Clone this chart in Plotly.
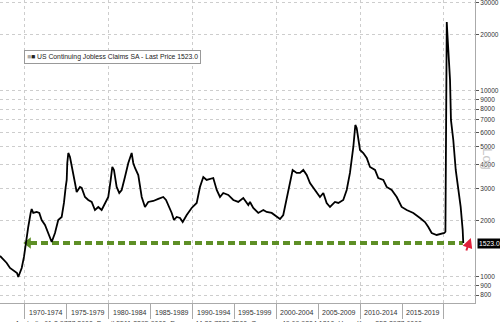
import plotly.graph_objects as go
import math

# ---- data (thousands) ----
years = [1967.02, 1967.41, 1967.82, 1968.21, 1968.57, 1969.05, 1969.20, 1969.40, 1969.61, 1969.88,
         1970.12, 1970.39, 1970.68, 1970.80, 1970.99, 1971.40, 1971.71, 1971.99, 1972.39, 1972.78,
         1973.19, 1973.58, 1973.97, 1974.38, 1974.65, 1974.86, 1974.98, 1975.05, 1975.17, 1975.37,
         1975.57, 1975.97, 1976.17, 1976.56, 1976.77, 1977.16, 1977.55, 1977.96, 1978.35, 1978.75,
         1979.15, 1979.55, 1979.94, 1980.23, 1980.42, 1980.62, 1980.94, 1981.25, 1981.54, 1981.93,
         1982.33, 1982.73, 1982.92, 1983.13, 1983.52, 1983.93, 1984.32, 1984.71, 1985.31, 1985.91,
         1986.50, 1986.83, 1987.10, 1987.51, 1987.78, 1988.10, 1988.50, 1988.82, 1989.30, 1989.89,
         1990.49, 1990.88, 1991.28, 1991.68, 1992.47, 1992.88, 1993.27, 1993.66, 1994.26, 1994.86,
         1995.45, 1996.05, 1996.65, 1996.85, 1997.24, 1997.84, 1998.44, 1998.84, 1999.44, 2000.04,
         2000.43, 2000.82, 2001.23, 2001.62, 2001.94, 2002.42, 2002.82, 2003.21, 2003.62, 2004.01,
         2004.61, 2005.20, 2005.60, 2006.00, 2006.40, 2006.99, 2007.39, 2007.98, 2008.39, 2008.78,
         2009.18, 2009.42, 2009.58, 2009.98, 2010.37, 2010.78, 2011.17, 2011.77, 2012.16, 2012.76,
         2013.16, 2013.76, 2014.36, 2014.95, 2015.55, 2016.34, 2017.14, 2017.73, 2018.13, 2018.53,
         2019.13, 2019.72, 2020.04, 2020.17, 2020.21, 2020.25, 2020.29, 2020.33, 2020.40, 2020.51,
         2020.72, 2020.83, 2021.11, 2021.40, 2021.71, 2021.99, 2022.23, 2022.30]
claims = [1297, 1250, 1189, 1118, 1090, 1051, 1000, 1051, 1118, 1281,
          1580, 1857, 2209, 2321, 2209, 2236, 2209, 2025, 1904, 1724,
          1542, 1724, 2025, 2102, 2500, 3047, 3323, 4102, 4642, 4418,
          3903, 3202, 2864, 3047, 3010, 2692, 2594, 2531, 2292, 2379,
          2292, 2500, 2692, 3323, 3903, 3761, 3047, 2829, 2936, 3447,
          4102, 4642, 4102, 3855, 3534, 2692, 2379, 2531, 2562, 2627,
          2692, 2594, 2438, 2209, 2025, 2102, 2076, 1975, 2154, 2350,
          2500, 3047, 3447, 3323, 3405, 2936, 2692, 2829, 2760, 2594,
          2531, 2659, 2438, 2531, 2350, 2209, 2292, 2236, 2209, 2102,
          2050, 2154, 2627, 3202, 3761, 3624, 3624, 3761, 3534, 3202,
          2936, 2692, 2829, 2500, 2379, 2531, 2500, 2594, 2936, 3624,
          5000, 6566, 6327, 4818, 4642, 4364, 3903, 3761, 3405, 3323,
          3047, 2936, 2692, 2379, 2292, 2209, 2076, 1975, 1857, 1724,
          1682, 1703, 1724, 1750, 3000, 8000, 16000, 23500, 20500, 17245,
          11458, 6985, 5452, 3761, 3047, 2379, 1789, 1523]
last_price = 1523.0

period_labels = ["1970-1974", "1975-1979", "1980-1984", "1985-1989", "1990-1994",
                 "1995-1999", "2000-2004", "2005-2009", "2010-2014", "2015-2019"]
period_starts = [1970, 1975, 1980, 1985, 1990, 1995, 2000, 2005, 2010, 2015]
y_ticks = [800, 900, 1000, 2000, 3000, 4000, 5000, 6000, 7000, 8000, 9000, 10000, 20000, 30000]

arrow_start, arrow_end = 1970.6, 2022.25

FONT = "Liberation Sans, Arial, sans-serif"
GRID = "#cdcdcd"

fig = go.Figure()
fig.add_trace(go.Scatter(x=[arrow_start, arrow_end], y=[last_price, last_price], mode="lines",
                         line=dict(color="#5e8f26", width=4, dash="7px,4px"),
                         hoverinfo="skip", showlegend=False))
fig.add_trace(go.Scatter(x=[arrow_start - 0.2], y=[last_price], mode="markers",
                         marker=dict(symbol="triangle-left", size=10, color="#5e8f26"),
                         hoverinfo="skip", showlegend=False))
fig.add_trace(go.Scatter(x=years, y=claims, mode="lines",
                         line=dict(color="#000000", width=1.8),
                         name="US Continuing Jobless Claims SA", showlegend=False))

fig.update_layout(
    width=500, height=322,
    margin=dict(l=0, r=25, t=0, b=19),
    paper_bgcolor="white", plot_bgcolor="white",
    font=dict(family=FONT, size=7, color="#333"),
    xaxis=dict(range=[1967.02, 2023.7], tickmode="array",
               tickvals=[1970, 1980, 1990, 2000, 2010, 2020], showticklabels=False,
               ticks="outside", ticklen=15, tickcolor="#aaa", tickwidth=1,
               showgrid=True, gridcolor=GRID, griddash="dot", gridwidth=1,
               minor=dict(tickmode="array", tickvals=[1975, 1985, 1995, 2005, 2015],
                          ticks="outside", ticklen=15, tickcolor="#aaa", showgrid=False),
               showline=True, linecolor="#aaa", linewidth=1, zeroline=False),
    yaxis=dict(type="log", side="right", range=[math.log10(724.6), math.log10(30840)],
               tickmode="array", tickvals=y_ticks, ticktext=[str(v) for v in y_ticks],
               ticks="outside", ticklen=3, tickcolor="#555", ticklabeloverflow="allow",
               showgrid=True, gridcolor=GRID, griddash="dot", gridwidth=1,
               showline=True, linecolor="#aaa", linewidth=1, zeroline=False,
               tickfont=dict(size=6.5, color="#333")),
)

ann = []
for s, lab in zip(period_starts, period_labels):
    ann.append(dict(x=s + 2.5, y=-0.03, xref="x", yref="paper", text=lab, showarrow=False,
                    font=dict(size=7, color="#333"), xanchor="center", yanchor="middle"))
ann.append(dict(x=13 / 475, y=-0.05, xref="paper", yref="paper", xanchor="left", yanchor="top",
                text="Australia 61 2 9777 8600  Brazil 5511 2395 9000  Europe 44 20 7330 7500  Germany 49 69 9204 1210  Hong Kong 852 2977 6000",
                showarrow=False, font=dict(size=7, color="#444")))
ann.append(dict(x=24 / 475, y=1 - 50 / 303, xref="paper", yref="paper", xanchor="left", yanchor="top",
                text="<span style='color:#aaa'>■</span>■ US Continuing Jobless Claims SA - Last Price 1523.0",
                showarrow=False, bgcolor="white", bordercolor="#999", borderwidth=1, borderpad=2,
                font=dict(size=6.8, color="#222")))
ann.append(dict(x=1.0, y=math.log10(last_price), xref="paper", yref="y", xanchor="left", yanchor="middle",
                xshift=2, text="1523.0", showarrow=False, bgcolor="black",
                font=dict(size=6.8, color="white"), borderpad=1))
ann.append(dict(x=1.0, y=math.log10(4300), xref="paper", yref="y", xanchor="center", yanchor="middle",
                xshift=13, text="Log", textangle=90, showarrow=False,
                font=dict(size=13, color="#c8c8c8")))
ann.append(dict(x=2023.2, y=math.log10(1620), xref="x", yref="y", ax=-5, ay=14,
                showarrow=True, arrowhead=2, arrowsize=1, arrowwidth=2, arrowcolor="#e0203a", text=""))
fig.update_layout(annotations=ann)

fig.write_html("out.html", config={"displayModeBar": False},
               post_script="document.body.style.margin='0';document.body.style.padding='0';")
